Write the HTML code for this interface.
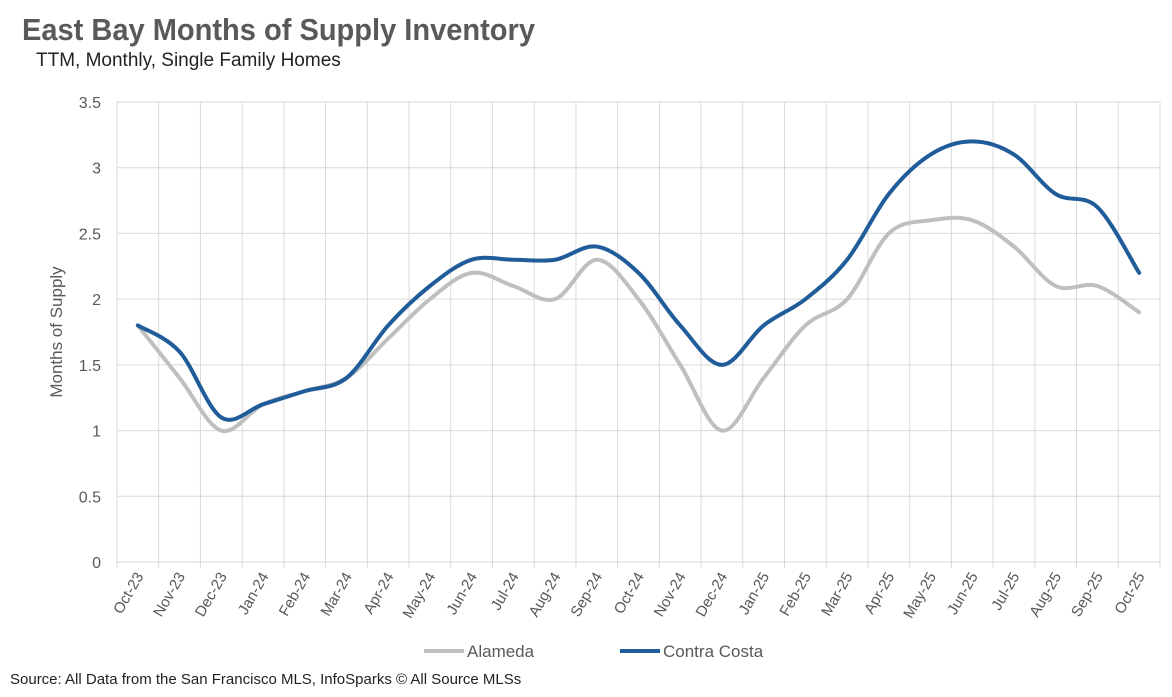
<!DOCTYPE html>
<html><head><meta charset="utf-8">
<style>
body{margin:0;background:#fff;width:1172px;height:692px;overflow:hidden;font-family:"Liberation Sans",sans-serif;}
</style></head>
<body>
<svg id="chart" width="1172" height="692" xmlns="http://www.w3.org/2000/svg">
<text x="22" y="40" font-size="31" font-weight="bold" fill="#595959" font-family="Liberation Sans, sans-serif" textLength="513" lengthAdjust="spacingAndGlyphs">East Bay Months of Supply Inventory</text>
<text x="36" y="66" font-size="19" fill="#222">TTM, Monthly, Single Family Homes</text>
<text transform="translate(62,332) rotate(-90)" text-anchor="middle" font-size="17" fill="#595959">Months of Supply</text>
<g id="grid"></g><g id="ylabels"></g><g id="xlabels"></g><g id="series"></g>
<g>
<line x1="424" y1="651" x2="464" y2="651" stroke="#BFBFBF" stroke-width="4"/>
<text x="467" y="657" font-size="17" fill="#595959">Alameda</text>
<line x1="620" y1="651" x2="660" y2="651" stroke="#1F5C99" stroke-width="4"/>
<text x="663" y="657" font-size="17" fill="#595959">Contra Costa</text>
</g>
<text x="10" y="684" font-size="15" fill="#222">Source: All Data from the San Francisco MLS, InfoSparks © All Source MLSs</text>
</svg>
<script>
const categories=["Oct-23","Nov-23","Dec-23","Jan-24","Feb-24","Mar-24","Apr-24","May-24","Jun-24","Jul-24","Aug-24","Sep-24","Oct-24","Nov-24","Dec-24","Jan-25","Feb-25","Mar-25","Apr-25","May-25","Jun-25","Jul-25","Aug-25","Sep-25","Oct-25"];
const alameda=[1.8,1.4,1.0,1.2,1.3,1.4,1.7,2.0,2.2,2.1,2.0,2.3,2.0,1.5,1.0,1.4,1.8,2.0,2.5,2.6,2.6,2.4,2.1,2.1,1.9];
const contraCosta=[1.8,1.6,1.1,1.2,1.3,1.4,1.8,2.1,2.3,2.3,2.3,2.4,2.2,1.8,1.5,1.8,2.0,2.3,2.8,3.1,3.2,3.1,2.8,2.7,2.2];
const yTicks=[0,0.5,1,1.5,2,2.5,3,3.5];
const NS="http://www.w3.org/2000/svg";
const L=117,R=1160,T=102,B=562,yMax=3.5;
const bw=(R-L)/categories.length;
const xs=i=>L+bw*(i+0.5);
const ys=v=>B-(v/yMax)*(B-T);
function mk(tag,attrs,parent){const e=document.createElementNS(NS,tag);for(const k in attrs)e.setAttribute(k,attrs[k]);parent.appendChild(e);return e;}
const grid=document.getElementById('grid');
yTicks.forEach(t=>{
  const l=mk('line',{x1:L,x2:R,y1:ys(t),y2:ys(t),stroke:'#D9D9D9','stroke-width':1},grid);
  
  
  const tx=mk('text',{x:101,y:ys(t)+6,'text-anchor':'end','font-size':16,fill:'#595959'},document.getElementById('ylabels'));
  tx.textContent=t;
  
  
});
for(let i=0;i<=categories.length;i++){
  const x=L+bw*i;
  const l=mk('line',{x1:x,x2:x,y1:T,y2:B+6,stroke:'#D9D9D9','stroke-width':1},grid);
  
  
}
categories.forEach((c,i)=>{
  const x=xs(i)+6,y=B+14;
  const tx=mk('text',{x:x,y:y,'text-anchor':'end','font-size':15,fill:'#595959',transform:`rotate(-60 ${x} ${y})`},document.getElementById('xlabels'));
  tx.textContent=c;
  
  
});
function path(vals){
  const p=vals.map((v,i)=>[xs(i),ys(v)]);
  let d=`M${p[0][0]},${p[0][1]}`;
  const k=1/6;
  for(let i=0;i<p.length-1;i++){
    const p0=p[Math.max(i-1,0)],p1=p[i],p2=p[i+1],p3=p[Math.min(i+2,p.length-1)];
    d+=` C${p1[0]+(p2[0]-p0[0])*k},${p1[1]+(p2[1]-p0[1])*k} ${p2[0]-(p3[0]-p1[0])*k},${p2[1]-(p3[1]-p1[1])*k} ${p2[0]},${p2[1]}`;
  }
  return d;
}
const sg=document.getElementById('series');
const a=mk('path',{d:path(alameda),fill:'none',stroke:'#BFBFBF','stroke-width':4,'stroke-linecap':'round'},sg);


const c=mk('path',{d:path(contraCosta),fill:'none',stroke:'#1F5C99','stroke-width':4,'stroke-linecap':'round'},sg);


</script>
</body></html>
